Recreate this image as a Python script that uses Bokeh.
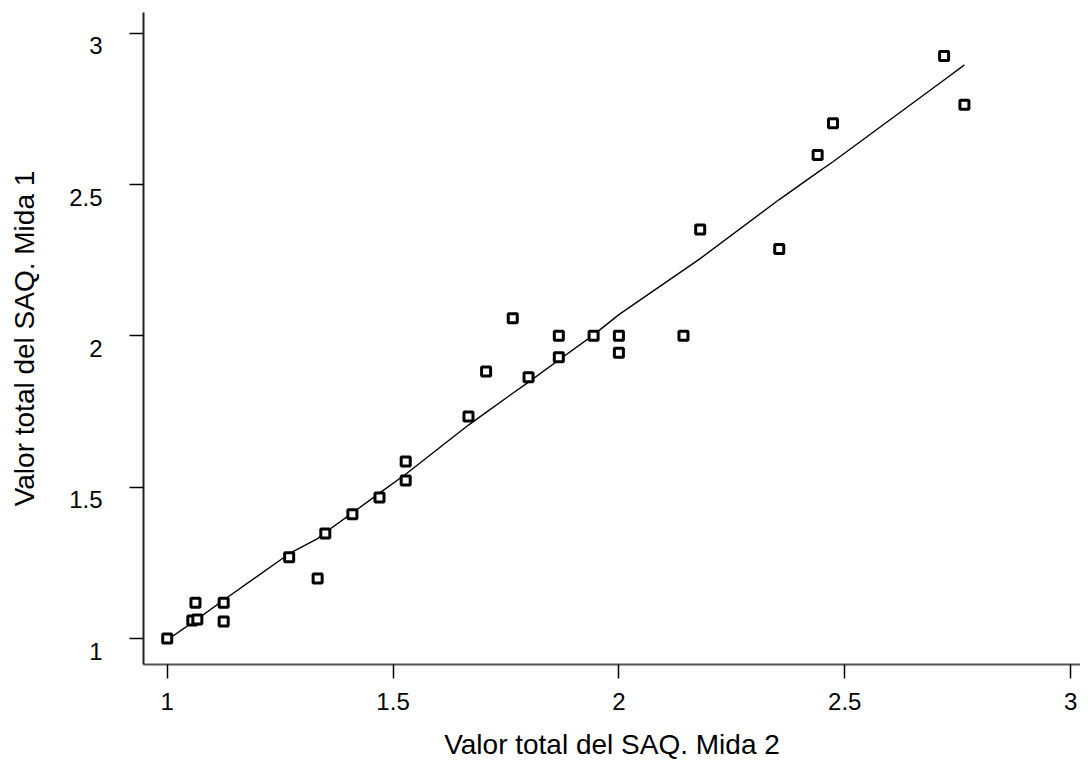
from bokeh.plotting import figure
from bokeh.embed import file_html
from bokeh.resources import INLINE
from bokeh.models import Range1d, FixedTicker

# Scatter data: Mida 2 (x) vs Mida 1 (y)
mida2 = [1.0, 1.0625, 1.125, 1.0556, 1.0667, 1.125, 1.27, 1.333, 1.35, 1.41,
         1.47, 1.528, 1.528, 1.667, 1.706, 1.765, 1.8, 1.867, 1.867, 1.944,
         2.0, 2.0, 2.143, 2.18, 2.355, 2.44, 2.474, 2.72, 2.765]
mida1 = [1.0, 1.118, 1.118, 1.059, 1.063, 1.056, 1.268, 1.198, 1.347, 1.41,
         1.466, 1.522, 1.585, 1.733, 1.882, 2.058, 1.863, 2.0, 1.929, 2.0,
         2.0, 1.944, 2.0, 2.351, 2.287, 2.597, 2.702, 2.924, 2.763]

# Smoothed (lowess-like) fit line
fit_x = [1.0, 1.0625, 1.125, 1.27, 1.333, 1.35, 1.41, 1.47, 1.53, 1.667,
         1.706, 1.765, 1.8, 1.867, 1.944, 2.0, 2.143, 2.18, 2.355, 2.44,
         2.474, 2.72, 2.765]
fit_y = [0.995, 1.06, 1.127, 1.28, 1.33, 1.35, 1.415, 1.48, 1.545, 1.705,
         1.747, 1.81, 1.847, 1.92, 2.003, 2.07, 2.217, 2.255, 2.45, 2.54,
         2.575, 2.845, 2.895]

ticks = [1, 1.5, 2, 2.5, 3]
tick_labels = ["1", "1.5", "2", "2.5", "3"]

FONT = "Liberation Sans"

p = figure(width=1080, height=764, output_backend="svg", toolbar_location=None,
           x_range=Range1d(0.9475, 3.022), y_range=Range1d(0.914, 3.068),
           min_border_left=143, min_border_right=0, min_border_top=12,
           min_border_bottom=100)
p.outline_line_color = None
p.xgrid.visible = False
p.ygrid.visible = False
p.background_fill_color = "white"
p.border_fill_color = "white"

p.line(fit_x, fit_y, line_color="black", line_width=1.4)
p.scatter(mida2, mida1, marker="square", size=9, line_color="black",
          line_width=3, fill_color="white")

for ax in (p.xaxis[0], p.yaxis[0]):
    ax.ticker = FixedTicker(ticks=ticks)
    ax.minor_tick_line_color = None
    ax.major_tick_in = 0
    ax.major_tick_out = 14
    ax.major_tick_line_color = "black"
    ax.major_tick_line_width = 1.5
    ax.axis_line_width = 2
    ax.major_label_text_font = FONT
    ax.major_label_text_font_size = "24px"
    ax.major_label_text_color = "black"
    ax.axis_label_text_font = FONT
    ax.axis_label_text_font_size = "28px"
    ax.axis_label_text_font_style = "normal"
    ax.axis_label_text_color = "black"

p.xaxis.major_label_overrides = dict(zip(ticks, tick_labels))
# the reference sets the vertical-axis labels slightly below their ticks
p.yaxis.major_label_overrides = {t: "\n" + s for t, s in zip(ticks, tick_labels)}
p.yaxis.major_label_text_line_height = 0.95

p.xaxis.axis_label = "Valor total del SAQ. Mida 2"
p.yaxis.axis_label = "Valor total del SAQ. Mida 1"
p.xaxis.axis_line_color = "#555555"
p.yaxis.axis_line_color = "#222222"
p.xaxis.major_label_standoff = 14
p.yaxis.major_label_standoff = 27
p.xaxis.axis_label_standoff = 16
p.yaxis.axis_label_standoff = 26

open("out.html", "w").write(file_html(p, INLINE))
